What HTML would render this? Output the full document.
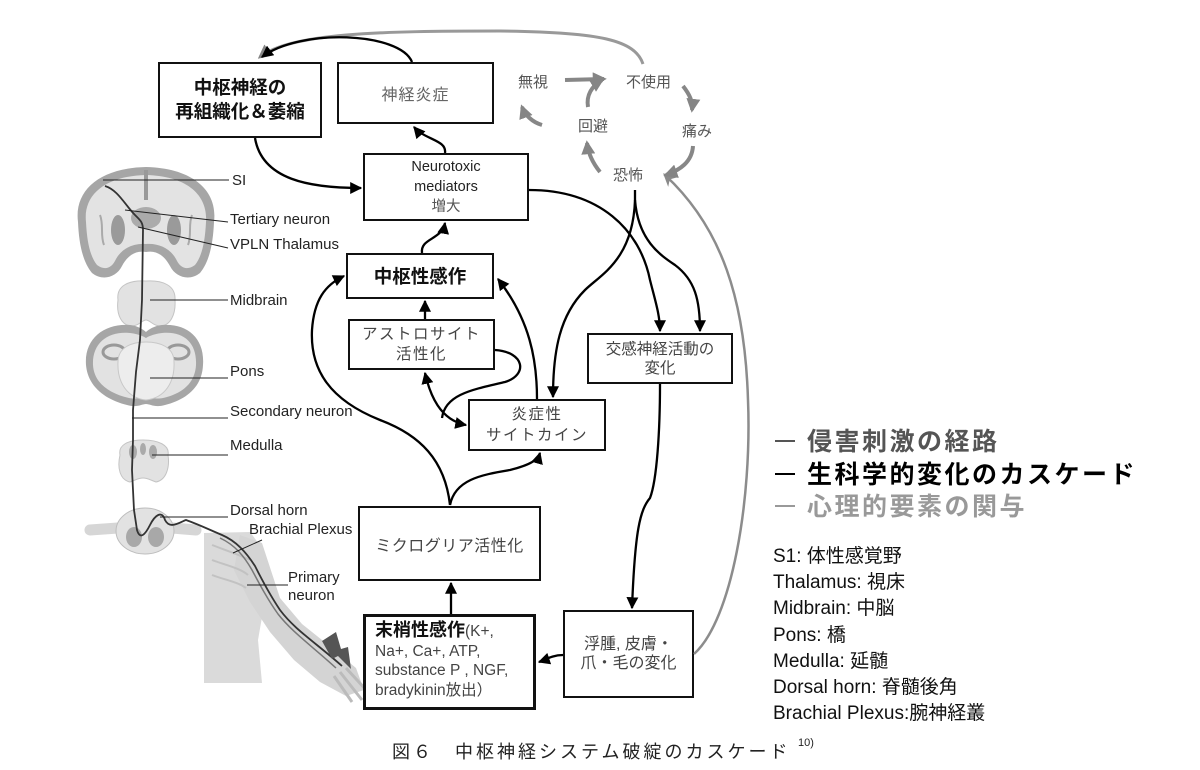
<!DOCTYPE html>
<html><head><meta charset="utf-8">
<style>
html,body{margin:0;padding:0;background:#fff;}
body{width:1200px;height:770px;position:relative;overflow:hidden;font-family:"Liberation Sans","Noto Sans CJK JP",sans-serif;}
.bx{position:absolute;box-sizing:border-box;border:2px solid #111;background:#fff;display:flex;flex-direction:column;align-items:center;justify-content:center;text-align:center;color:#444;}
.t{position:absolute;white-space:nowrap;}
svg{position:absolute;left:0;top:0;}
.lg{position:absolute;left:775px;white-space:nowrap;font-weight:bold;font-size:25px;letter-spacing:2.5px;line-height:30px;}
.lg i{display:inline-block;width:20px;height:2px;vertical-align:middle;margin-right:12px;position:relative;top:-2px;}
</style></head><body>

<svg width="1200" height="770" viewBox="0 0 1200 770" style="z-index:0">
  <!-- anatomy -->
  <g>
    <!-- coronal brain -->
    <path d="M78,222 C74,190 100,168 146,167 C192,168 218,190 214,222 C213,245 209,262 200,273 C190,281 176,278 170,266 C164,255 156,250 146,252 C136,250 128,255 122,266 C116,278 102,281 92,273 C83,262 79,245 78,222 Z" fill="#a6a6a6"/>
    <path d="M86,222 C83,195 105,176 146,175 C187,176 208,195 206,222 C205,242 202,256 195,265 C187,271 180,268 176,259 C170,248 158,243 146,244 C134,243 122,248 116,259 C112,268 105,271 97,265 C90,256 87,242 86,222 Z" fill="#e3e3e3"/>
    <path d="M146,170 L146,200" stroke="#999" stroke-width="4"/>
    <ellipse cx="118" cy="230" rx="7" ry="15" fill="#9a9a9a"/>
    <ellipse cx="174" cy="230" rx="7" ry="15" fill="#9a9a9a"/>
    <ellipse cx="146" cy="218" rx="15" ry="11" fill="#ababab"/>
    <path d="M100,215 C104,225 100,235 104,245" stroke="#aaa" stroke-width="2" fill="none"/>
    <path d="M192,215 C188,225 192,235 188,245" stroke="#aaa" stroke-width="2" fill="none"/>
    <!-- midbrain -->
    <path d="M118,300 C116,285 130,280 146,281 C162,280 176,285 175,300 C176,315 170,326 160,326 C153,326 150,320 146,320 C142,320 139,326 132,326 C122,326 116,315 118,300 Z" fill="#e2e2e2" stroke="#c4c4c4"/>
    <!-- pons / cerebellum -->
    <path d="M86,365 C84,338 105,323 130,325 C140,326 146,332 146,332 C146,332 152,326 162,325 C187,323 205,338 203,365 C202,388 185,400 165,405 C155,408 150,404 146,404 C142,404 137,408 127,405 C107,400 88,388 86,365 Z" fill="#a6a6a6"/>
    <path d="M93,365 C92,343 108,331 130,333 C140,334 146,338 146,338 C146,338 152,334 162,333 C184,331 197,343 196,365 C195,384 181,394 163,398 C154,400 150,396 146,396 C142,396 138,400 129,398 C111,394 94,384 93,365 Z" fill="#e2e2e2"/>
    <ellipse cx="114" cy="352" rx="11" ry="7" fill="none" stroke="#999" stroke-width="3"/>
    <ellipse cx="178" cy="352" rx="11" ry="7" fill="none" stroke="#999" stroke-width="3"/>
    <path d="M118,362 C118,347 132,342 146,342 C160,342 174,347 174,362 C175,382 165,398 146,400 C127,398 117,382 118,362 Z" fill="#ededed" stroke="#c8c8c8"/>
    <!-- medulla -->
    <path d="M120,455 C118,445 128,440 143,440 C158,440 170,445 168,455 C170,468 166,480 156,482 C150,480 148,478 143,478 C138,478 136,480 130,482 C120,480 117,468 120,455 Z" fill="#e2e2e2" stroke="#c4c4c4"/>
    <ellipse cx="133" cy="452" rx="4" ry="7" fill="#aaa"/>
    <ellipse cx="153" cy="452" rx="4" ry="7" fill="#aaa"/>
    <ellipse cx="143" cy="449" rx="3" ry="6" fill="#aaa"/>
    <!-- spinal cord -->
    <path d="M118,528 L90,530" stroke="#d6d6d6" stroke-width="11" stroke-linecap="round"/>
    <path d="M172,528 L196,530" stroke="#d6d6d6" stroke-width="11" stroke-linecap="round"/>
    <ellipse cx="145" cy="531" rx="29" ry="23" fill="#e2e2e2" stroke="#bdbdbd"/>
    <ellipse cx="134" cy="537" rx="8" ry="10" fill="#a8a8a8"/>
    <ellipse cx="156" cy="537" rx="8" ry="10" fill="#a8a8a8"/>
    <!-- torso & arm -->
    <path d="M204,533 L250,532 L262,548 L265,600 L258,640 L262,683 L204,683 Z" fill="#dadada"/>
    <path d="M240,535 L262,543 L280,598 L302,624 L332,648 L356,668 L364,690 L346,696 L320,682 L294,660 L270,632 L250,602 L234,570 Z" fill="#d4d4d4"/>
    <path d="M212,545 C225,550 240,555 250,560 M212,560 C225,565 240,568 248,575 M212,575 C225,580 238,582 246,588" stroke="#c2c2c2" stroke-width="2" fill="none"/>
    <path d="M340,672 L362,700 M334,676 L352,702 M346,668 L368,692" stroke="#bbb" stroke-width="3" fill="none"/>
    <!-- neuron -->
    <path d="M105,186 C118,190 125,205 135,215 C140,220 143,222 143,230 L142,300 L140,340 L136,372 L133,410 L133,440 L132,470 L134,510 L137,530 C140,540 145,535 150,525 C155,515 162,510 165,520 C170,530 180,522 186,520 C200,525 210,530 222,535 C236,541 246,552 255,566 C262,580 270,595 280,610 C295,630 315,642 342,666" stroke="#333" stroke-width="1.8" fill="none"/>
    <path d="M220,538 C235,545 244,556 252,570 C260,585 268,600 278,614 C292,632 312,646 336,668" stroke="#777" stroke-width="1.5" fill="none"/>
    <!-- lightning -->
    <polygon points="322,641 336,632 341,649 348,647 351,669 338,656 332,659" fill="#555"/>
    <!-- leader lines -->
    <g stroke="#222" stroke-width="1">
      <line x1="103" y1="180" x2="229" y2="180"/>
      <line x1="125" y1="210" x2="228" y2="222"/>
      <line x1="138" y1="227" x2="228" y2="248"/>
      <line x1="150" y1="300" x2="228" y2="300"/>
      <line x1="150" y1="378" x2="228" y2="378"/>
      <line x1="132" y1="418" x2="228" y2="418"/>
      <line x1="152" y1="455" x2="228" y2="455"/>
      <line x1="160" y1="517" x2="228" y2="517"/>
      <line x1="233" y1="553" x2="262" y2="540"/>
      <line x1="247" y1="585" x2="288" y2="585"/>
    </g>
    <g font-family="Liberation Sans, sans-serif" font-size="15" fill="#222">
      <text x="232" y="185">SI</text>
      <text x="230" y="224">Tertiary neuron</text>
      <text x="230" y="249">VPLN Thalamus</text>
      <text x="230" y="305">Midbrain</text>
      <text x="230" y="376">Pons</text>
      <text x="230" y="416">Secondary neuron</text>
      <text x="230" y="450">Medulla</text>
      <text x="230" y="515">Dorsal horn</text>
      <text x="249" y="534">Brachial Plexus</text>
      <text x="288" y="582">Primary</text>
      <text x="288" y="600">neuron</text>
    </g>
  </g>
</svg>

<!-- boxes -->
<div class="bx" style="left:158px;top:62px;width:164px;height:76px;border-width:2.5px;color:#111;font-weight:bold;font-size:18.5px;line-height:24px;">中枢神経の<br>再組織化＆萎縮</div>
<div class="bx" style="left:337px;top:62px;width:157px;height:62px;color:#666;font-size:16px;letter-spacing:1px;">神経炎症</div>
<div class="bx" style="left:363px;top:153px;width:166px;height:68px;color:#222;font-size:14.5px;line-height:20px;">Neurotoxic<br>mediators<br><span style="color:#555">増大</span></div>
<div class="bx" style="left:346px;top:253px;width:148px;height:46px;color:#111;font-weight:bold;font-size:18.5px;">中枢性感作</div>
<div class="bx" style="left:348px;top:319px;width:147px;height:51px;font-size:15.5px;letter-spacing:1.5px;line-height:20px;">アストロサイト<br>活性化</div>
<div class="bx" style="left:468px;top:399px;width:138px;height:52px;font-size:15.5px;letter-spacing:1.5px;line-height:21px;">炎症性<br>サイトカイン</div>
<div class="bx" style="left:587px;top:333px;width:146px;height:51px;font-size:15.5px;line-height:19px;">交感神経活動の<br>変化</div>
<div class="bx" style="left:358px;top:506px;width:183px;height:75px;font-size:16px;letter-spacing:0.5px;">ミクログリア活性化</div>
<div class="bx" style="left:363px;top:614px;width:173px;height:96px;border-width:3px;display:block;text-align:left;padding:4px 0 0 9px;font-size:15.5px;line-height:19.7px;color:#444;"><b style="color:#111;font-size:18px;">末梢性感作</b>(K+,<br>Na+, Ca+, ATP,<br>substance P , NGF,<br>bradykinin放出）</div>
<div class="bx" style="left:563px;top:610px;width:131px;height:88px;font-size:16px;line-height:19px;">浮腫, 皮膚・<br>爪・毛の変化</div>

<!-- cycle labels -->
<div class="t" style="left:518px;top:71px;font-size:15px;color:#555;">無視</div>
<div class="t" style="left:626px;top:71px;font-size:15px;color:#555;">不使用</div>
<div class="t" style="left:578px;top:115px;font-size:15px;color:#555;">回避</div>
<div class="t" style="left:682px;top:120px;font-size:15px;color:#555;">痛み</div>
<div class="t" style="left:613px;top:164px;font-size:15px;color:#555;">恐怖</div>

<svg width="1200" height="770" viewBox="0 0 1200 770" style="z-index:2;pointer-events:none">
  <defs>
    <marker id="ab" viewBox="0 0 10 10" refX="9" refY="5" markerWidth="12" markerHeight="12" markerUnits="userSpaceOnUse" orient="auto"><path d="M0,0 L10,5 L0,10 z" fill="#000"/></marker>
    <marker id="abs" viewBox="0 0 10 10" refX="1" refY="5" markerWidth="12" markerHeight="12" markerUnits="userSpaceOnUse" orient="auto"><path d="M10,0 L0,5 L10,10 z" fill="#000"/></marker>
    <marker id="ag" viewBox="0 0 10 10" refX="8" refY="5" markerWidth="14" markerHeight="14" markerUnits="userSpaceOnUse" orient="auto"><path d="M0,0 L10,5 L0,10 z" fill="#858585"/></marker>
    <marker id="ag2" viewBox="0 0 10 10" refX="8" refY="5" markerWidth="13" markerHeight="13" markerUnits="userSpaceOnUse" orient="auto"><path d="M0,0 L10,5 L0,10 L3,5 z" fill="#8a8a8a"/></marker>
  </defs>
  <!-- gray long curves -->
  <path d="M643,64 C635,40 600,32 500,31 C380,31 290,33 260,57" stroke="#999" stroke-width="3" fill="none" marker-end="url(#ag)"/>
  <path d="M694,654 C732,620 752,500 748,400 C745,300 722,228 665,175" stroke="#8c8c8c" stroke-width="2.5" fill="none" marker-end="url(#ag2)"/>
  <!-- gray cycle -->
  <g stroke="#878787" stroke-width="4" fill="none" marker-end="url(#ag)">
    <path d="M565,80 L604,79"/>
    <path d="M588,107 C586,95 592,86 602,80"/>
    <path d="M683,86 C690,95 693,102 692,110"/>
    <path d="M693,146 C692,162 680,170 666,175"/>
    <path d="M600,172 C592,162 588,152 587,143"/>
    <path d="M542,125 C532,122 525,115 522,107"/>
  </g>
  <!-- black connectors -->
  <g stroke="#000" stroke-width="2.3" fill="none" marker-end="url(#ab)">
    <path d="M412,62 C400,32 300,28 262,57"/>
    <path d="M255,138 C262,180 310,188 361,188"/>
    <path d="M445,153 C447,140 425,140 414,127"/>
    <path d="M422,253 C420,238 442,240 445,223"/>
    <path d="M529,190 C600,190 640,230 650,280 C655,300 660,315 660,331"/>
    <path d="M635,190 L635,200 C633,260 600,275 585,290 C560,315 553,350 553,397"/>
    <path d="M635,200 C638,240 660,255 675,265 C695,280 700,300 700,331"/>
    <path d="M660,384 C660,430 657,480 650,498 C640,510 635,530 632,608"/>
    <path d="M563,655 C552,655 545,660 539,662"/>
    <path d="M451,614 L451,583"/>
    <path d="M450,505 C445,460 420,435 380,420 C330,400 310,370 312,330 C314,300 325,285 344,276"/>
    <path d="M450,505 C455,480 480,475 510,470 C530,465 538,460 540,453"/>
    <path d="M537,399 C537,360 530,320 498,279"/>
    <path d="M425,319 L425,301"/>
    <path d="M425,373 C430,395 440,420 466,425" marker-start="url(#abs)"/>
  </g>
  <path d="M495,350 C525,352 528,375 505,382 C470,390 445,395 442,418" stroke="#000" stroke-width="2.3" fill="none"/>
</svg>

<!-- legend -->
<div class="lg" style="top:427px;color:#555;"><i style="background:#555"></i>侵害刺激の経路</div>
<div class="lg" style="top:460px;color:#000;"><i style="background:#000"></i>生科学的変化のカスケード</div>
<div class="lg" style="top:492px;color:#999;"><i style="background:#999"></i>心理的要素の関与</div>

<div class="t" style="left:773px;top:544px;font-size:19px;line-height:26.2px;color:#111;">S1: 体性感覚野<br>Thalamus: 視床<br>Midbrain: 中脳<br>Pons: 橋<br>Medulla: 延髄<br>Dorsal horn: 脊髄後角<br>Brachial Plexus:腕神経叢</div>

<div class="t" style="left:392px;top:740px;font-size:18px;letter-spacing:3px;color:#222;line-height:24px;">図６　中枢神経システム破綻のカスケード</div>
<div class="t" style="left:798px;top:737px;font-size:11px;color:#222;">10)</div>

</body></html>
